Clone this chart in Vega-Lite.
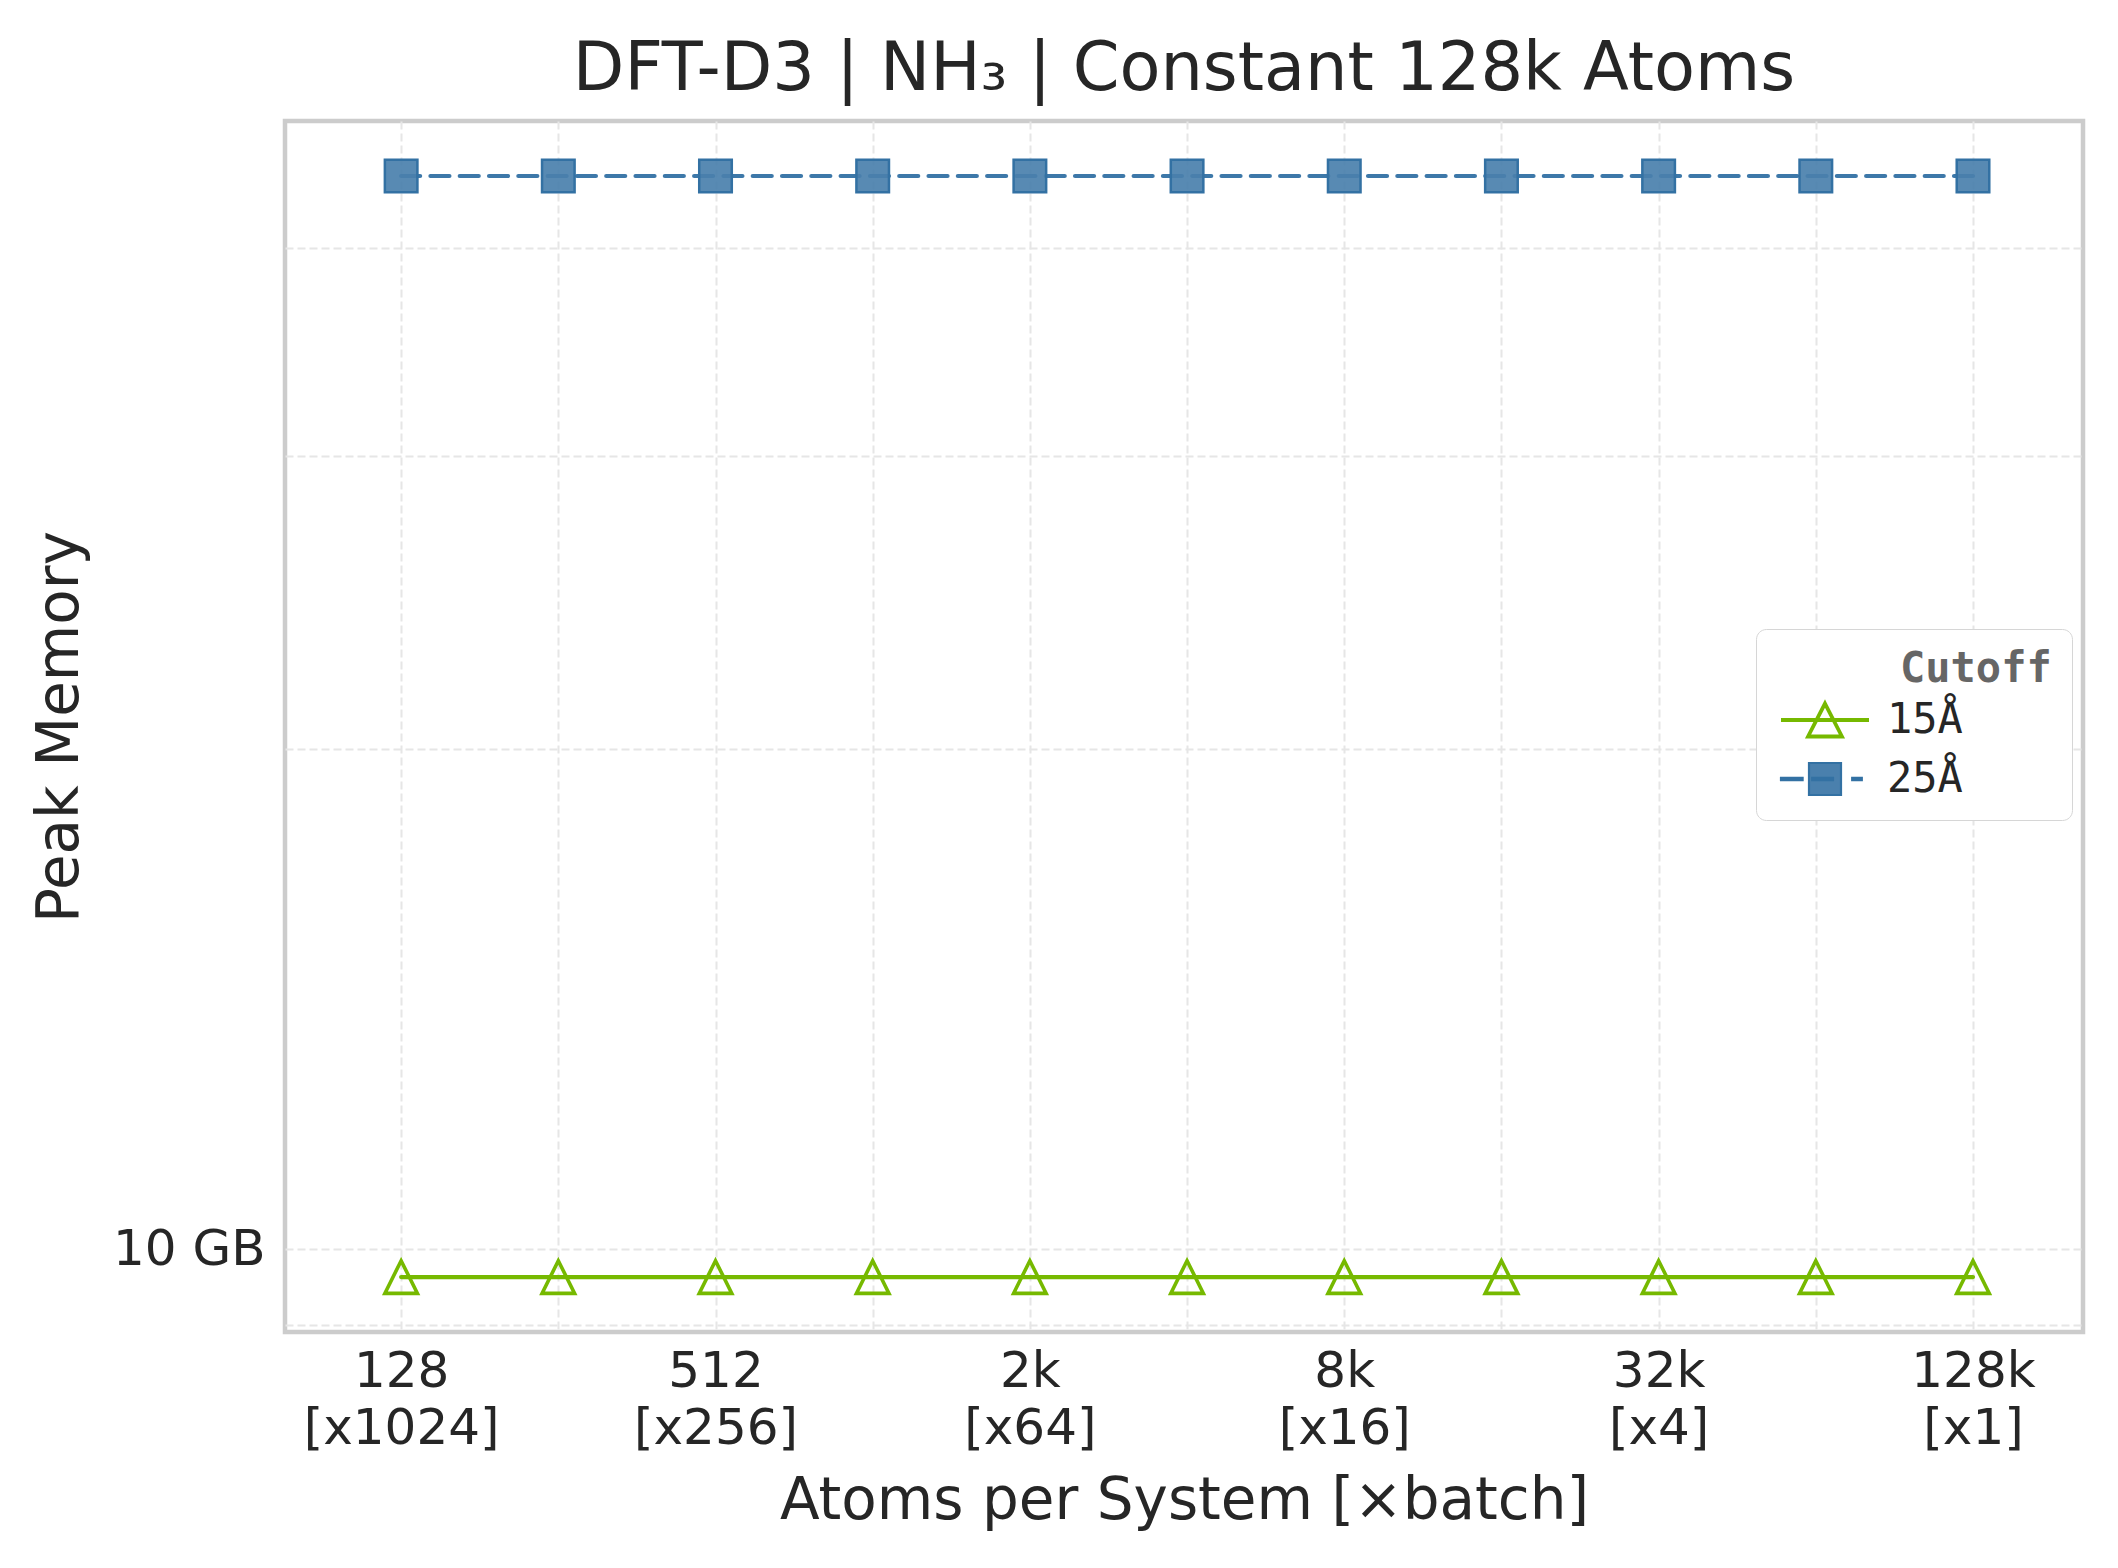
{
  "$schema": "https://vega.github.io/schema/vega-lite/v6.json",
  "autosize": {"type": "none"},
  "padding": {"left": 285, "top": 121, "right": 35, "bottom": 236},
  "width": 1798,
  "height": 1211,
  "background": "white",
  "title": {
    "text": "DFT-D3 | NH₃ | Constant 128k Atoms",
    "font": "DejaVu Sans",
    "fontSize": 67,
    "fontWeight": "normal",
    "color": "#262626",
    "anchor": "middle",
    "baseline": "alphabetic",
    "offset": -36
  },
  "data": {
    "values": [
      {"atoms": 128, "cutoff": "15Å", "mem": 9.62},
      {"atoms": 256, "cutoff": "15Å", "mem": 9.62},
      {"atoms": 512, "cutoff": "15Å", "mem": 9.62},
      {"atoms": 1024, "cutoff": "15Å", "mem": 9.62},
      {"atoms": 2048, "cutoff": "15Å", "mem": 9.62},
      {"atoms": 4096, "cutoff": "15Å", "mem": 9.62},
      {"atoms": 8192, "cutoff": "15Å", "mem": 9.62},
      {"atoms": 16384, "cutoff": "15Å", "mem": 9.62},
      {"atoms": 32768, "cutoff": "15Å", "mem": 9.62},
      {"atoms": 65536, "cutoff": "15Å", "mem": 9.62},
      {"atoms": 131072, "cutoff": "15Å", "mem": 9.62},
      {"atoms": 128, "cutoff": "25Å", "mem": 44.2},
      {"atoms": 256, "cutoff": "25Å", "mem": 44.2},
      {"atoms": 512, "cutoff": "25Å", "mem": 44.2},
      {"atoms": 1024, "cutoff": "25Å", "mem": 44.2},
      {"atoms": 2048, "cutoff": "25Å", "mem": 44.2},
      {"atoms": 4096, "cutoff": "25Å", "mem": 44.2},
      {"atoms": 8192, "cutoff": "25Å", "mem": 44.2},
      {"atoms": 16384, "cutoff": "25Å", "mem": 44.2},
      {"atoms": 32768, "cutoff": "25Å", "mem": 44.2},
      {"atoms": 65536, "cutoff": "25Å", "mem": 44.2},
      {"atoms": 131072, "cutoff": "25Å", "mem": 44.2}
    ]
  },
  "encoding": {
    "x": {
      "field": "atoms",
      "type": "quantitative",
      "scale": {"type": "log", "base": 2, "domain": [76.7, 212900], "nice": false},
      "axis": {
        "title": "Atoms per System [×batch]",
        "values": [128, 256, 512, 1024, 2048, 4096, 8192, 16384, 32768, 65536, 131072],
        "labelExpr": "indexof([128, 512, 2048, 8192, 32768, 131072], datum.value) < 0 ? '' : [datum.value >= 1024 ? (datum.value / 1024) + 'k' : '' + datum.value, '[x' + (131072 / datum.value) + ']']",
        "labelLineHeight": 57,
        "labelPadding": 14,
        "labelLimit": 500,
        "titlePadding": 19
      }
    },
    "y": {
      "field": "mem",
      "type": "quantitative",
      "scale": {"type": "log", "domain": [8.915, 47.7], "nice": false},
      "axis": {
        "title": "Peak Memory",
        "values": [9, 10, 20, 30, 40],
        "labelExpr": "datum.value == 10 ? '10 GB' : ''",
        "labelPadding": 20,
        "titlePadding": 23
      }
    }
  },
  "layer": [
    {
      "mark": {"type": "line", "strokeWidth": 4.2, "strokeCap": "round"},
      "encoding": {
        "detail": {"field": "cutoff", "type": "nominal"},
        "color": {"condition": {"test": "datum.cutoff === '15Å'", "value": "#76b900"}, "value": "#3d78a9"},
        "strokeDash": {"condition": {"test": "datum.cutoff === '15Å'", "value": [1, 0]}, "value": [19, 10.3]}
      }
    },
    {
      "mark": {"type": "point", "filled": true, "size": 1060, "opacity": 1},
      "encoding": {
        "shape": {"condition": {"test": "datum.cutoff === '15Å'", "value": "M0,-1L1,1L-1,1Z"}, "value": "square"},
        "fill": {"condition": {"test": "datum.cutoff === '15Å'", "value": "transparent"}, "value": "#4a80ad"},
        "stroke": {"condition": {"test": "datum.cutoff === '15Å'", "value": "#76b900"}, "value": "#3371a3"},
        "strokeWidth": {"condition": {"test": "datum.cutoff === '15Å'", "value": 3.6}, "value": 2.5},
        "fillOpacity": {"value": 0.92}
      }
    },
    {
      "mark": {"type": "point", "filled": true, "opacity": 0},
      "encoding": {
        "shape": {
          "field": "cutoff",
          "type": "nominal",
          "scale": {"domain": ["15Å", "25Å"], "range": ["M-2.75,0H2.75M0,-1.03L1.06,1.03L-1.06,1.03Z", "M-2.75,-0.07H-1.4V0.07H-2.75Z M-0.8,-0.07H0.5V0.07H-0.8Z M1.7,-0.07H2.3V0.07H1.7Z M-1,-1H1V1H-1Z"]},
          "legend": {"title": "\u2800\u2800\u2800\u2800Cutoff", "encode": {"legend": {"strokeWidth": {"value": 4}}}}
        },
        "fill": {
          "field": "cutoff",
          "type": "nominal",
          "scale": {"domain": ["15Å", "25Å"], "range": ["transparent", "#4a80ad"]},
          "legend": {"title": "\u2800\u2800\u2800\u2800Cutoff"}
        },
        "stroke": {
          "field": "cutoff",
          "type": "nominal",
          "scale": {"domain": ["15Å", "25Å"], "range": ["#76b900", "#3371a3"]},
          "legend": {"title": "\u2800\u2800\u2800\u2800Cutoff"}
        },
        "strokeWidth": {
          "field": "cutoff",
          "type": "nominal",
          "scale": {"domain": ["15Å", "25Å"], "range": [3.8, 2.2]},
          "legend": {"title": "\u2800\u2800\u2800\u2800Cutoff"}
        }
      }
    }
  ],
  "config": {
    "view": {"stroke": "#cccccc", "strokeWidth": 4.5},
    "font": "DejaVu Sans",
    "legend": {
      "orient": "none",
      "legendX": 1471,
      "legendY": 508,
      "padding": 20,
      "fillColor": "white",
      "strokeColor": "#d6d6d6",
      "cornerRadius": 10,
      "titleFont": "DejaVu Sans Mono",
      "titleFontSize": 42,
      "titleFontWeight": "bold",
      "titleColor": "#666666",
      "titlePadding": 8,
      "titleLimit": 600,
      "labelFont": "DejaVu Sans Mono",
      "labelFontSize": 42,
      "labelColor": "#262626",
      "labelOffset": 41,
      "symbolOffset": 28,
      "symbolSize": 1024,
      "symbolOpacity": 1,
      "rowPadding": 13
    },
    "axis": {
      "labelFont": "DejaVu Sans",
      "labelFontSize": 50,
      "labelColor": "#262626",
      "titleFont": "DejaVu Sans",
      "titleFontSize": 58,
      "titleFontWeight": "normal",
      "titleColor": "#262626",
      "domain": false,
      "ticks": false,
      "grid": true,
      "gridColor": "#e6e6e6",
      "gridDash": [8, 4],
      "gridWidth": 2,
      "labelOverlap": false,
      "labelBound": false,
      "labelFlush": false
    }
  }
}
